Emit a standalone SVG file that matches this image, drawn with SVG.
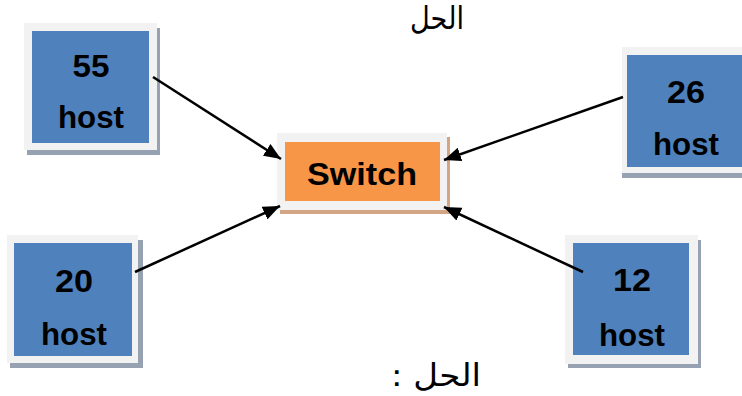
<svg xmlns="http://www.w3.org/2000/svg" width="742" height="396" viewBox="0 0 742 396">
  <style>
    .frame { fill: #F2F2F2; }
    .hshadow { fill: #96A2B2; }
    .host { fill: #4F81BD; }
    .sshadow { fill: #D2A684; }
    .sw { fill: #F79646; }
    .lbl { font-family: "Liberation Sans", Arial, sans-serif; font-weight: bold; font-size: 31px; fill: #000; text-anchor: middle; }
    .ar { font-family: "DejaVu Sans", "Noto Sans", sans-serif; font-size: 31px; fill: #000; text-anchor: middle; }
    .link { stroke: #000; stroke-width: 2.5; fill: none; marker-end: url(#head); }
  </style>
  <defs>
    <marker id="head" markerUnits="userSpaceOnUse" markerWidth="18" markerHeight="14" refX="17" refY="7" orient="auto">
      <path d="M0,0 L17,7 L0,14 z" fill="#000"/>
    </marker>
  </defs>

  <rect width="742" height="396" fill="#fff"/>

  <text class="ar" x="437" y="29" textLength="54" lengthAdjust="spacingAndGlyphs">الحل</text>
  <text class="ar" x="436" y="386" textLength="90" lengthAdjust="spacingAndGlyphs">: الحل</text>

  <g id="host55">
    <rect class="hshadow" x="27" y="28" width="133" height="127"/>
    <rect class="frame" x="24" y="23" width="133" height="127"/>
    <rect class="host" x="32" y="31" width="117" height="112"/>
    <text class="lbl" x="91" y="77" textLength="37" lengthAdjust="spacingAndGlyphs">55</text>
    <text class="lbl" x="91" y="128" textLength="66" lengthAdjust="spacingAndGlyphs">host</text>
  </g>

  <g id="host26">
    <rect class="hshadow" x="622" y="52" width="130" height="126"/>
    <rect class="frame" x="622" y="47" width="130" height="126"/>
    <rect class="host" x="627" y="55" width="120" height="112"/>
    <text class="lbl" x="686" y="103" textLength="38" lengthAdjust="spacingAndGlyphs">26</text>
    <text class="lbl" x="686" y="155" textLength="66" lengthAdjust="spacingAndGlyphs">host</text>
  </g>

  <g id="host20">
    <rect class="hshadow" x="10" y="240" width="133" height="128"/>
    <rect class="frame" x="7" y="235" width="131" height="128"/>
    <rect class="host" x="14" y="243" width="118" height="113"/>
    <text class="lbl" x="74" y="292" textLength="38" lengthAdjust="spacingAndGlyphs">20</text>
    <text class="lbl" x="74" y="345" textLength="66" lengthAdjust="spacingAndGlyphs">host</text>
  </g>

  <g id="host12">
    <rect class="hshadow" x="568" y="240" width="133" height="128"/>
    <rect class="frame" x="565" y="235" width="133" height="129"/>
    <rect class="host" x="573" y="243" width="116" height="112"/>
    <text class="lbl" x="632" y="291" textLength="38" lengthAdjust="spacingAndGlyphs">12</text>
    <text class="lbl" x="632" y="346" textLength="66" lengthAdjust="spacingAndGlyphs">host</text>
  </g>

  <g id="switch">
    <rect class="sshadow" x="280" y="137" width="170" height="77"/>
    <rect class="frame" x="277" y="133" width="170" height="77"/>
    <rect class="sw" x="285" y="142" width="155" height="59"/>
    <text class="lbl" x="362" y="185" textLength="110" lengthAdjust="spacingAndGlyphs">Switch</text>
  </g>

  <g id="connectors">
    <line class="link" x1="153" y1="77" x2="281" y2="159"/>
    <line class="link" x1="135" y1="272" x2="280" y2="206"/>
    <line class="link" x1="623" y1="97" x2="444" y2="160"/>
    <line class="link" x1="583" y1="272" x2="444" y2="207"/>
  </g>
</svg>
